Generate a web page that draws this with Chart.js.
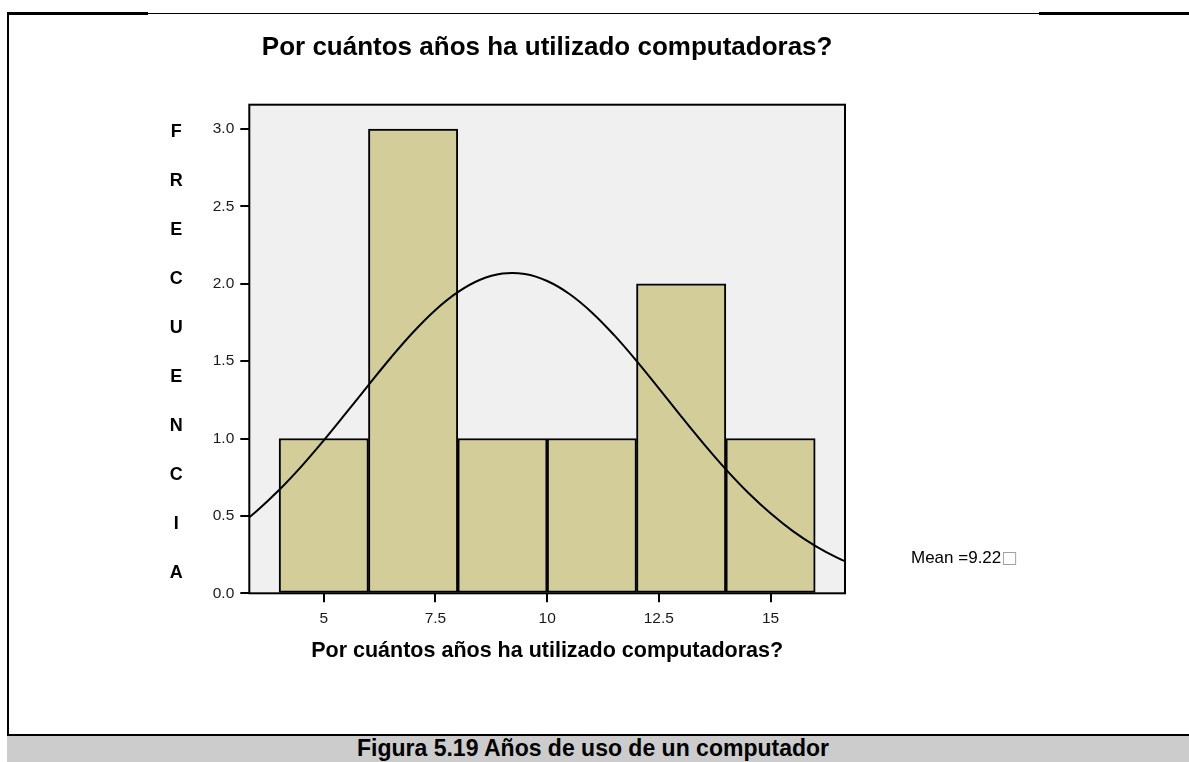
<!DOCTYPE html>
<html lang="es">
<head>
<meta charset="utf-8">
<title>Años de uso de un computador</title>
<script src="https://cdn.jsdelivr.net/npm/chart.js@4.4.1/dist/chart.umd.min.js"></script>
<style>
  html, body { margin: 0; padding: 0; background: #fff; }
  body { width: 1189px; height: 762px; position: relative; overflow: hidden;
         font-family: Arial, "Liberation Sans", sans-serif; }
  #wrap { position: absolute; left: 0; top: 0; width: 1189px; height: 735px; }
  .rule { position: absolute; background: #000; }
  #caption { position: absolute; left: 7px; top: 734px; width: 1182px; height: 28px;
             border-top: 2px solid #000; background: #cccccc; box-sizing: border-box;
             padding-right: 10px; text-align: center; font-weight: bold; font-size: 23px;
             line-height: 24px; color: #000; }
</style>
</head>
<body>
<div id="wrap"><canvas id="grafico"></canvas></div>
<div class="rule" style="left:7px;top:12px;width:141px;height:3px"></div>
<div class="rule" style="left:148px;top:13px;width:891px;height:1px"></div>
<div class="rule" style="left:1039px;top:12px;width:150px;height:3px"></div>
<div class="rule" style="left:7px;top:12px;width:2px;height:750px"></div>
<div id="caption">Figura 5.19 Años de uso de un computador</div>

<script>
// histograma: centro de cada intervalo (ancho 2 años) y su frecuencia
const centrosIntervalo = [5, 7, 9, 11, 13, 15];
const frecuencias = [1, 3, 1, 1, 2, 1];

// curva normal superpuesta, leída cada medio año
const curvaX = [3, 3.5, 4, 4.5, 5, 5.5, 6, 6.5, 7, 7.5, 8, 8.5, 9, 9.5, 10, 10.5, 11, 11.5, 12, 12.5, 13, 13.5, 14, 14.5, 15, 15.5, 16, 16.5, 17];
const curvaY = [0.415, 0.532, 0.667, 0.820, 0.988, 1.165, 1.345, 1.522, 1.687, 1.831, 1.946, 2.026, 2.066, 2.063, 2.018, 1.934, 1.815, 1.668, 1.502, 1.324, 1.143, 0.967, 0.801, 0.650, 0.517, 0.402, 0.307, 0.229, 0.167];

const ticksX = [5, 7.5, 10, 12.5, 15];
const ticksY = [0, 0.5, 1, 1.5, 2, 2.5, 3];
const letrasEjeY = ['F', 'R', 'E', 'C', 'U', 'E', 'N', 'C', 'I', 'A'];
const textoMedia = 'Mean =9.22';
const titulo = 'Por cuántos años ha utilizado computadoras?';

const FUENTE = 'Arial, "Liberation Sans", sans-serif';
Chart.defaults.font.family = FUENTE;
Chart.defaults.color = '#1a1a1a';

// fondo gris y marco negro del área de datos
const marcoArea = {
    id: 'marcoArea',
    beforeDatasetsDraw(chart) {
        const { ctx, chartArea: a } = chart;
        ctx.save();
        ctx.fillStyle = '#f0f0f0';
        ctx.fillRect(a.left, a.top, a.right - a.left, a.bottom - a.top);
        ctx.restore();
    },
    afterDatasetsDraw(chart) {
        const { ctx, chartArea: a } = chart;
        ctx.save();
        ctx.strokeStyle = '#000';
        ctx.lineWidth = 2;
        ctx.strokeRect(a.left, a.top, a.right - a.left, a.bottom - a.top);
        ctx.restore();
    }
};

// "FRECUENCIA" en letras apiladas y la nota de la media
const textosExtra = {
    id: 'textosExtra',
    afterDraw(chart) {
        const { ctx, chartArea: a } = chart;
        ctx.save();
        ctx.fillStyle = '#000';
        ctx.textAlign = 'center';
        ctx.textBaseline = 'middle';
        ctx.font = 'bold 18px ' + FUENTE;
        const paso = 49.1;
        const centro = (a.top + a.bottom) / 2 + 3.5;
        letrasEjeY.forEach((l, i) => {
            ctx.fillText(l, a.left - 73, centro + (i - (letrasEjeY.length - 1) / 2) * paso);
        });

        ctx.textAlign = 'left';
        ctx.font = '17px ' + FUENTE;
        const xm = a.right + 66, ym = a.bottom - 35;
        ctx.fillText(textoMedia, xm, ym);
        const w = ctx.measureText(textoMedia).width;
        ctx.fillStyle = '#a0a0a0';
        ctx.font = '17px "DejaVu Sans", sans-serif';
        ctx.fillText('□', xm + w, ym);
        ctx.restore();
    }
};

const ctx = document.getElementById('grafico').getContext('2d');
const chart = new Chart(ctx, {
    type: 'bar',
    data: {
        datasets: [{
            type: 'line',
            data: curvaX.map((x, i) => ({ x, y: curvaY[i] })),
            borderColor: '#000',
            borderWidth: 2,
            pointRadius: 0,
            tension: 0.4,
            fill: false,
            order: 0
        }, {
            data: centrosIntervalo.map((x, i) => ({ x, y: frecuencias[i] })),
            backgroundColor: '#d3ce99',
            borderColor: '#000',
            borderWidth: 2,
            borderSkipped: false,
            barPercentage: 1,
            categoryPercentage: 1,
            order: 1
        }]
    },
    options: {
        responsive: true,
        maintainAspectRatio: false,
        animation: false,
        events: [],
        layout: { padding: { left: 189.3, right: 344, top: 0, bottom: 61.7 } },
        plugins: {
            legend: { display: false },
            tooltip: { enabled: false },
            title: {
                display: true,
                fullSize: false,
                text: titulo,
                color: '#000',
                font: { size: 26, weight: 'bold' },
                padding: { top: 32, bottom: 41.5 }
            }
        },
        scales: {
            x: {
                type: 'linear',
                min: 3.333,
                max: 16.667,
                offset: false,
                afterBuildTicks: s => { s.ticks = ticksX.map(v => ({ value: v })); },
                afterFit: s => { s.height = 80; },
                grid: { display: true, drawOnChartArea: false, drawTicks: true, tickLength: 9, color: '#000', lineWidth: 2, offset: false },
                border: { display: false },
                ticks: { font: { size: 15.5 }, padding: 7, maxRotation: 0 },
                title: {
                    display: true,
                    text: titulo,
                    color: '#000',
                    font: { size: 21.5, weight: 'bold' },
                    padding: { top: 0, bottom: 9.4 }
                }
            },
            y: {
                type: 'linear',
                min: 0,
                max: 3.157,
                afterBuildTicks: s => { s.ticks = ticksY.map(v => ({ value: v })); },
                afterFit: s => { s.width = 60; },
                grid: { display: true, drawOnChartArea: false, drawTicks: true, tickLength: 9, color: '#000', lineWidth: 2 },
                border: { display: false },
                ticks: { font: { size: 15.5 }, padding: 6, callback: v => v.toFixed(1) }
            }
        }
    },
    plugins: [marcoArea, textosExtra]
});
</script>
</body>
</html>
